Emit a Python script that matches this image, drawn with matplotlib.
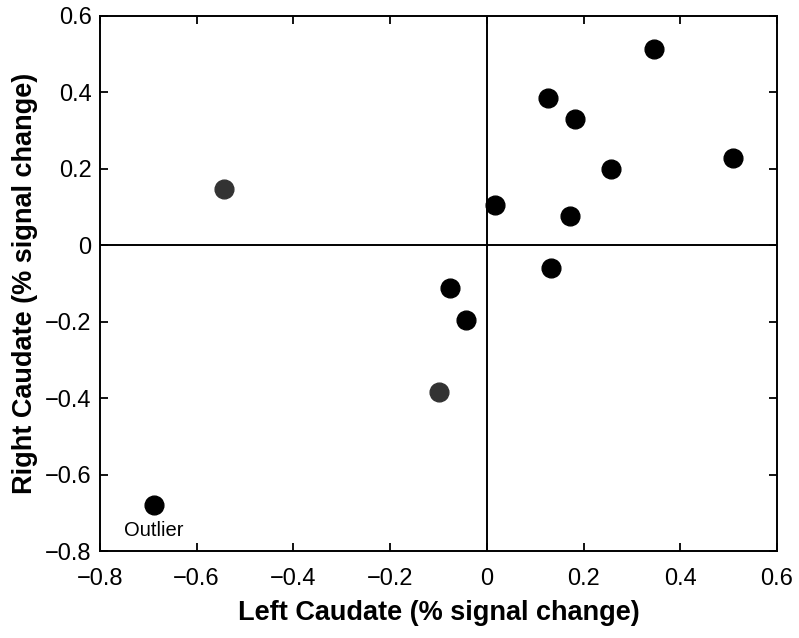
import matplotlib
matplotlib.use("Agg")
from matplotlib import pyplot as plt

plt.rcParams['font.family'] = ['Liberation Sans', 'DejaVu Sans']

# data
left_black = [0.346, 0.127, 0.182, 0.256, 0.510, 0.017, 0.171, 0.133, -0.076, -0.044, -0.689]
right_black = [0.513, 0.385, 0.331, 0.201, 0.229, 0.106, 0.076, -0.059, -0.112, -0.196, -0.680]
left_grey = [-0.544, -0.099]
right_grey = [0.147, -0.384]
outlier = (-0.689, -0.680)
ticks = [-0.8, -0.6, -0.4, -0.2, 0, 0.2, 0.4, 0.6]
tick_labels = ["\u22120.8", "\u22120.6", "\u22120.4", "\u22120.2", "0", "0.2", "0.4", "0.6"]

fig = plt.figure(figsize=(7.99, 6.38), dpi=100)
ax = fig.add_axes([0.125, 0.136, 0.8475, 0.839])

ax.axvline(0, color="black", lw=1.4, zorder=1)
ax.axhline(0, color="black", lw=1.4, zorder=1)
ax.plot(left_black, right_black, "o", color="black", ms=13.5, zorder=3)
ax.plot(left_grey, right_grey, "o", color="#333333", ms=13.5, zorder=3)
ax.text(outlier[0], outlier[1] - 0.067, "Outlier", ha="center", va="center", fontsize=14.5)

ax.set_xlim(-0.8, 0.6)
ax.set_ylim(-0.8, 0.6)
ax.set_xticks(ticks)
ax.set_xticklabels(tick_labels)
ax.set_yticks(ticks)
ax.set_yticklabels(tick_labels)
ax.tick_params(direction="in", length=6, width=1.3, top=True, right=True, labelsize=17)
ax.tick_params(axis="x", pad=12)
ax.tick_params(axis="y", pad=6)
for s in ax.spines.values():
    s.set_linewidth(1.4)

ax.set_xlabel("Left Caudate (% signal change)", fontsize=19.5, fontweight="bold", labelpad=7)
ax.set_ylabel("Right Caudate (% signal change)", fontsize=19.5, fontweight="bold", labelpad=5)

fig.savefig("out.png", dpi=100)
